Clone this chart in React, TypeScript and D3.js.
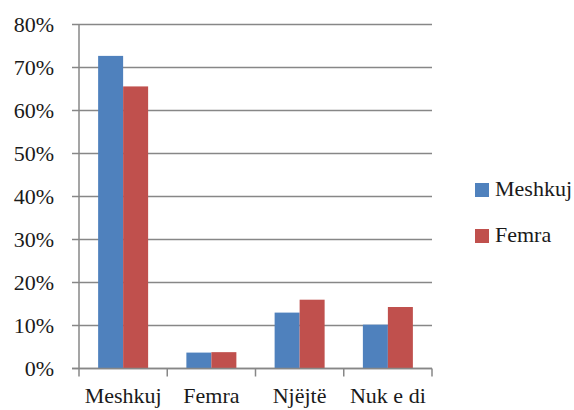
import React from 'react'
import * as d3 from 'd3'

const categories = ['Meshkuj', 'Femra', 'Njëjtë', 'Nuk e di']
const seriesNames = ['Meshkuj', 'Femra']
const meshkujValues = [0.727, 0.037, 0.13, 0.102]
const femraValues = [0.656, 0.038, 0.16, 0.143]
const yTicks = [0, 0.1, 0.2, 0.3, 0.4, 0.5, 0.6, 0.7, 0.8]
const colors = ['#4F81BD', '#C0504D']

const width = 574
const height = 410
const font = "'Liberation Serif', 'Times New Roman', serif"
const grid = '#878787'
const textStyle = { fontFamily: font, fontSize: '22px' }

function App() {
  // scales
  const x0 = d3.scaleBand<string>()
    .domain(categories)
    .range([79, 432])
    .padding(0)
  const x1 = d3.scaleBand<string>()
    .domain(seriesNames)
    .range([0, x0.bandwidth()])
    .paddingInner(0)
    .paddingOuter(0.765)
  const y = d3.scaleLinear()
    .domain([0, 0.8])
    .range([368.5, 24.5])
  const fmt = d3.format('.0%')
  const series = [meshkujValues, femraValues]
  const tickXs = categories.map(c => x0(c)!).concat([x0.range()[1]])

  return (
    <svg className="chart" width={width} height={height} style={{ position: 'absolute', left: 0, top: 0, background: '#fff', fontFamily: font }}>
      <style>{`.chart text { font-family: ${font} !important; font-size: 22px; }`}</style>
      {/* gridlines */}
      {yTicks.map(t => (
        <line key={t} x1={72} x2={432} y1={y(t)} y2={y(t)} stroke={grid} strokeWidth={1.5} />
      ))}
      {/* y labels */}
      {yTicks.map(t => (
        <text key={t} x={54} y={y(t) + 7} textAnchor="end" style={textStyle} fill="#1a1a1a">
          {fmt(t)}
        </text>
      ))}
      {/* bars */}
      {categories.map((c, i) => (
        <g key={c} transform={`translate(${x0(c)},0)`}>
          {seriesNames.map((s, j) => (
            <rect
              key={s}
              x={x1(s)}
              width={x1.bandwidth()}
              y={y(series[j][i])}
              height={y(0) - y(series[j][i])}
              fill={colors[j]}
            />
          ))}
        </g>
      ))}
      {/* axes */}
      <line x1={79} x2={79} y1={y(0.8)} y2={y(0)} stroke={grid} strokeWidth={1.5} />
      <line x1={72} x2={432} y1={y(0)} y2={y(0)} stroke={grid} strokeWidth={1.5} />
      {tickXs.map(tx => (
        <line key={tx} x1={tx} x2={tx} y1={y(0)} y2={y(0) + 8} stroke={grid} strokeWidth={1.5} />
      ))}
      {/* x labels */}
      {categories.map(c => (
        <text key={c} x={x0(c)! + x0.bandwidth() / 2} y={403} textAnchor="middle" style={textStyle} fill="#1a1a1a">
          {c}
        </text>
      ))}
      {/* legend */}
      {seriesNames.map((s, i) => (
        <g key={s} transform={`translate(475,${183 + i * 46})`}>
          <rect width={14} height={14} fill={colors[i]} />
          <text x={20} y={13} style={textStyle} fill="#1a1a1a">{s}</text>
        </g>
      ))}
    </svg>
  )
}

export default App
